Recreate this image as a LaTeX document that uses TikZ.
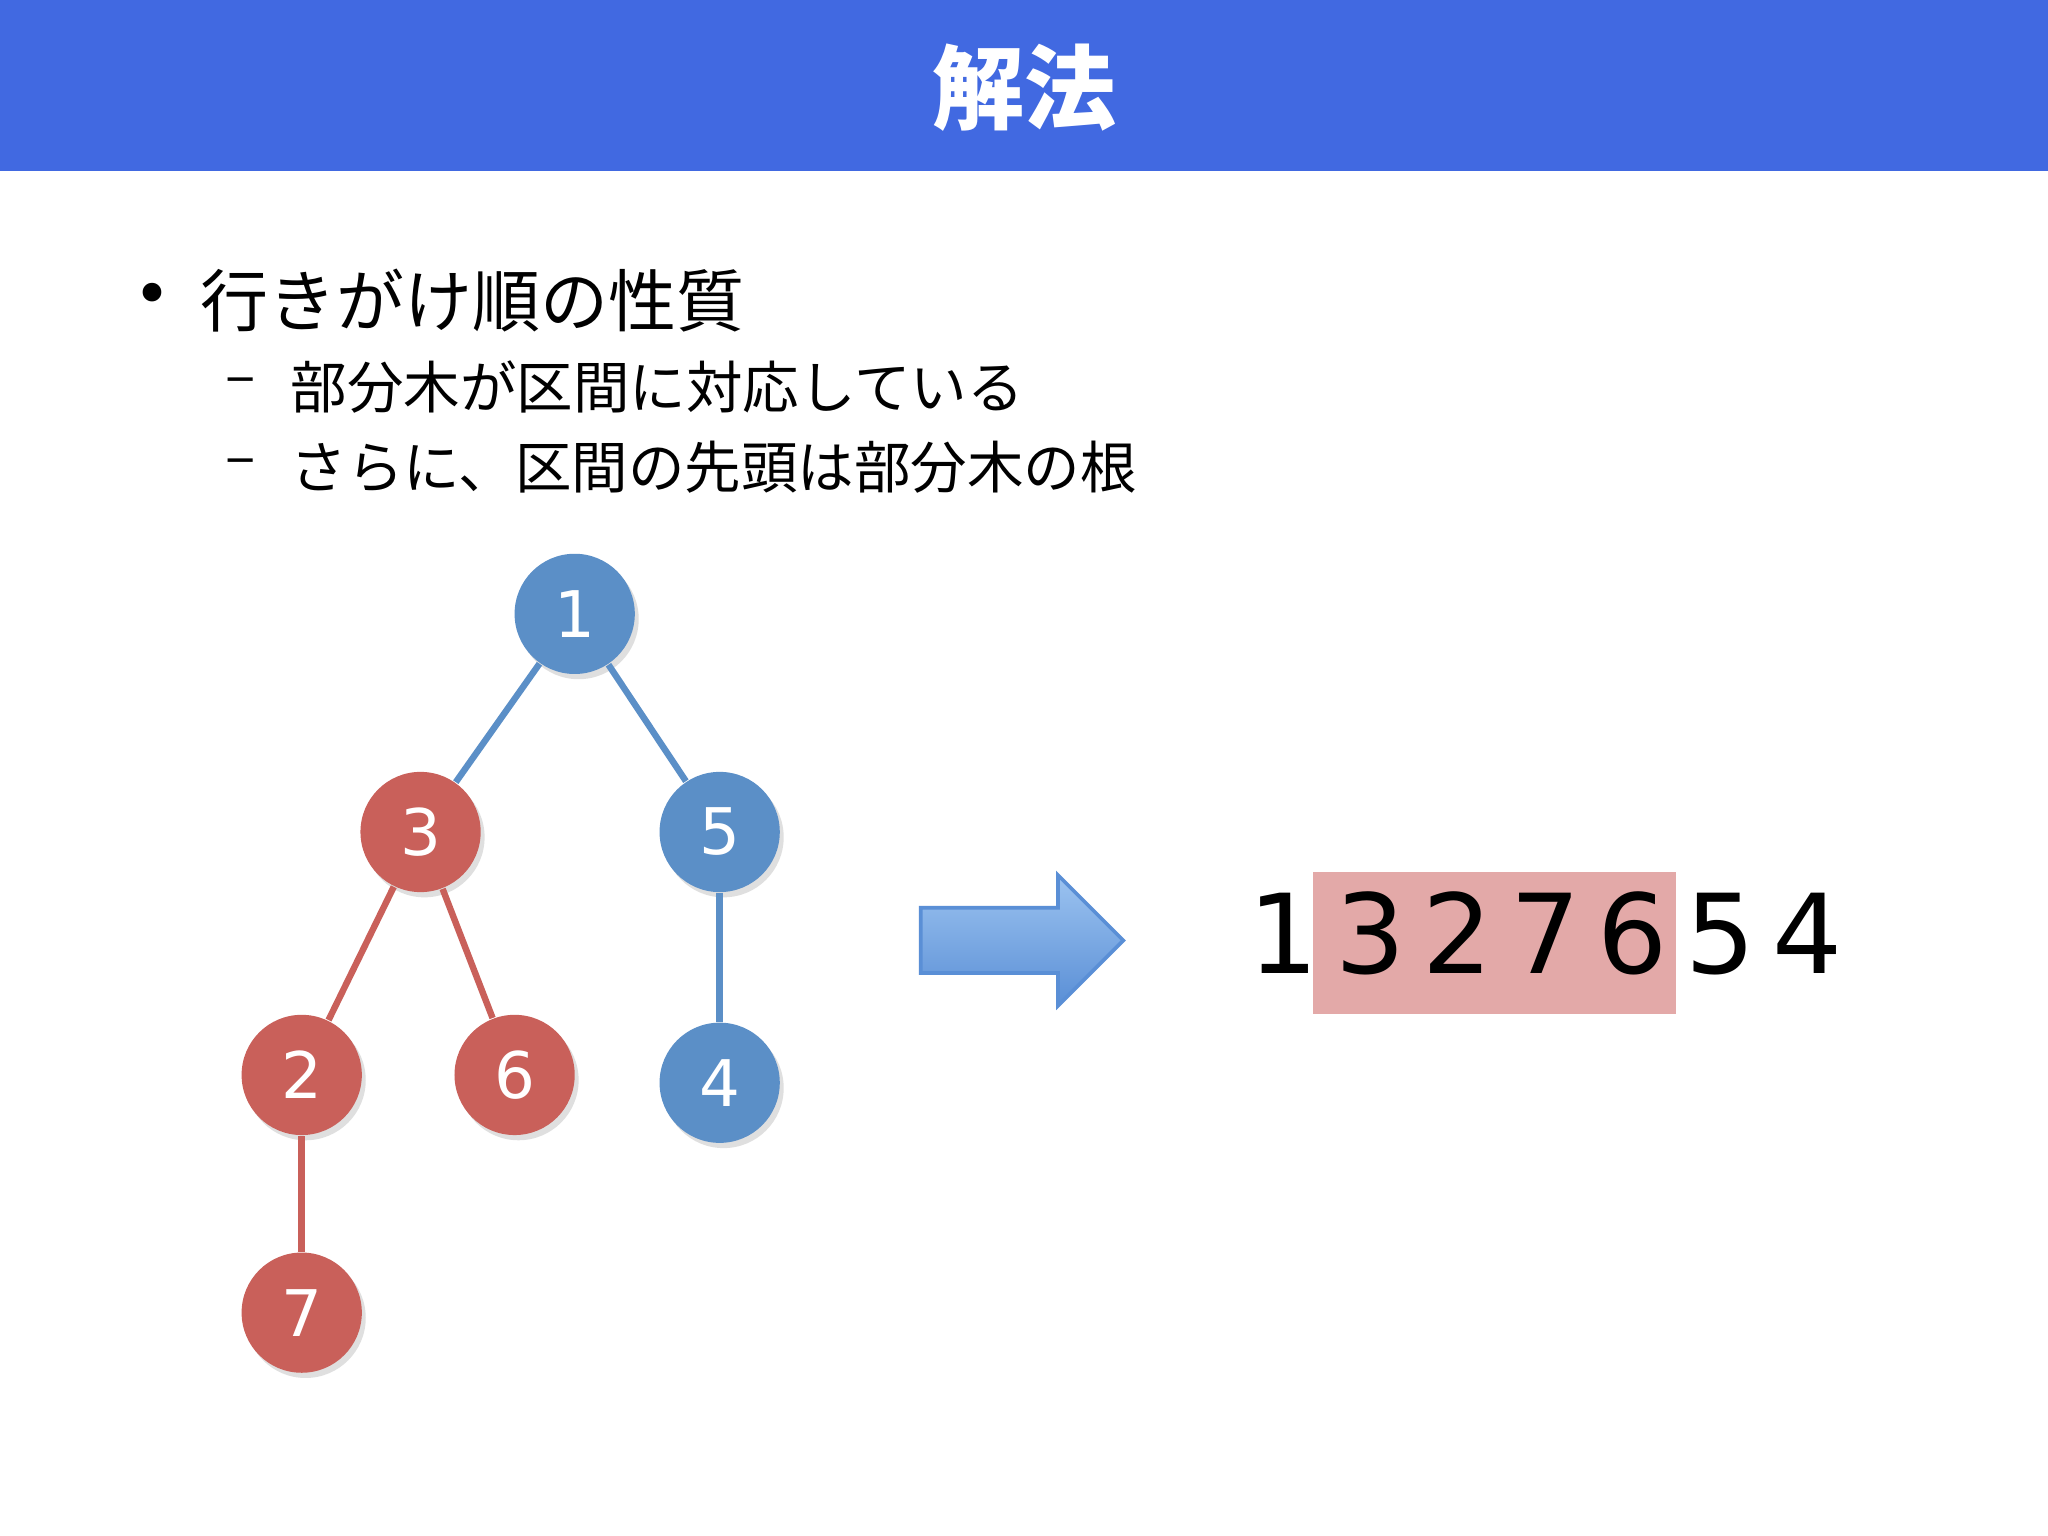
\documentclass[tikz,border=0pt]{standalone}
\usepackage{fontspec}
\setmainfont{DejaVu Sans}
\newfontfamily\jp{Noto Sans CJK JP}
\usetikzlibrary{shadows}
\definecolor{titleblue}{HTML}{4169E1}
\definecolor{nblue}{HTML}{5B8FC7}
\definecolor{nred}{HTML}{C9605A}
\definecolor{pinkbox}{HTML}{E3A9A8}
\definecolor{arrlight}{HTML}{9CC3F0}
\definecolor{arrdark}{HTML}{5A8FD6}
\begin{document}
\begin{tikzpicture}[x=0.01cm,y=-0.01cm,
  tnode/.style={circle,minimum size=0.92cm,inner sep=0pt,text=white,font=\fontsize{14}{14}\selectfont,drop shadow={opacity=0.25,shadow xshift=0.03cm,shadow yshift=-0.04cm}},
  bn/.style={tnode,fill=nblue},
  rn/.style={tnode,fill=nred},
  be/.style={draw=nblue,line width=1.4pt},
  re/.style={draw=nred,line width=1.4pt},
  dig/.style={font=\fontsize{24}{24}\selectfont,anchor=base,inner sep=0pt}]
\useasboundingbox (0,0) rectangle (1568,1176);
\fill[white] (0,0) rectangle (1568,1176);
\fill[titleblue] (0,0) rectangle (1568,131);
\node[text=white,font=\jp\bfseries\fontsize{20}{20}\selectfont] (title) at (784,67) {解法};
\node[anchor=west,font=\fontsize{14}{14}\selectfont] (b1) at (90,230) {•};
\node[anchor=west,inner sep=0pt,font=\jp\fontsize{14.8}{15}\selectfont] (t1) at (153,230) {行きがけ順の性質};
\node[anchor=west,inner sep=0pt,font=\jp\fontsize{12.3}{13}\selectfont] (d1) at (172,296) {–};
\node[anchor=west,inner sep=0pt,font=\jp\fontsize{12.3}{13}\selectfont] (t2) at (222,296) {部分木が区間に対応している};
\node[anchor=west,inner sep=0pt,font=\jp\fontsize{12.3}{13}\selectfont] (d2) at (172,358) {–};
\node[anchor=west,inner sep=0pt,font=\jp\fontsize{12.3}{13}\selectfont] (t3) at (222,358) {さらに、区間の先頭は部分木の根};
% tree
\node[bn] (n1) at (440,470) {1};
\node[rn] (n3) at (322,637) {3};
\node[bn] (n5) at (551,637) {5};
\node[rn] (n2) at (231,823) {2};
\node[rn] (n6) at (394,823) {6};
\node[bn] (n4) at (551,829) {4};
\node[rn] (n7) at (231,1005) {7};
\begin{scope}[on background layer/.style={}]
\end{scope}
\draw[be] (n1) -- (n3);
\draw[be] (n1) -- (n5);
\draw[re] (n3) -- (n2);
\draw[re] (n3) -- (n6);
\draw[be] (n5) -- (n4);
\draw[re] (n2) -- (n7);
% arrow
\shade[top color=arrlight,bottom color=arrdark,draw=arrdark,line width=0.8pt]
  (705,695) -- (810,695) -- (810,670) -- (860,720) -- (810,770) -- (810,745) -- (705,745) -- cycle;
% sequence
\fill[pinkbox] (1005,668) rectangle (1283,776);
\foreach \d/\x [count=\i] in {1/983,3/1049,2/1116,7/1183,6/1250,5/1317,4/1384}
  \node[dig] (s\i) at (\x,745) {\d};
\end{tikzpicture}
\end{document}
